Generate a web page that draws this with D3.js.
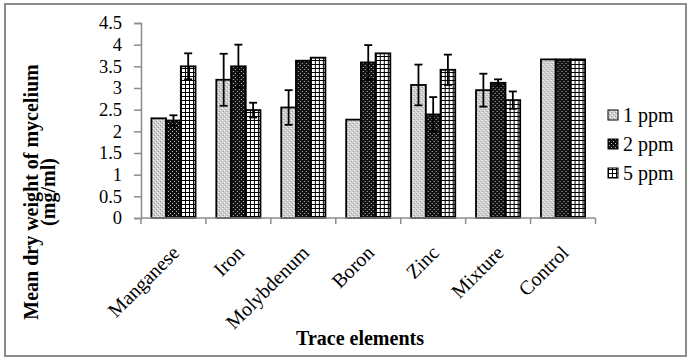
<!DOCTYPE html>
<html>
<head>
<meta charset="utf-8">
<script src="https://cdn.jsdelivr.net/npm/d3@7"></script>
<style>
	body { margin: 0; background: #fff; }
	svg { display: block; }
	svg text { font-family: 'Liberation Serif', 'Times New Roman', serif; }
</style>
</head>
<body>
<svg id="canvas" width="691" height="361"></svg>
<script>
const elements = ['Manganese', 'Iron', 'Molybdenum', 'Boron', 'Zinc', 'Mixture', 'Control'];
const seriesNames = ['1 ppm', '2 ppm', '5 ppm'];
const ppm1 = [2.3, 3.19, 2.55, 2.27, 3.07, 2.95, 3.66];
const ppm2 = [2.25, 3.5, 3.63, 3.59, 2.39, 3.12, 3.66];
const ppm5 = [3.5, 2.49, 3.7, 3.8, 3.42, 2.72, 3.66];
const err1 = [0, 0.6, 0.4, 0, 0.47, 0.38, 0];
const err2 = [0.12, 0.5, 0, 0.4, 0.4, 0.08, 0];
const err5 = [0.3, 0.17, 0, 0, 0.35, 0.2, 0];
const yTicks = [0, 0.5, 1, 1.5, 2, 2.5, 3, 3.5, 4, 4.5];

const values = [ppm1, ppm2, ppm5];
const errors = [err1, err2, err5];

const svg = d3.select('#canvas');

// outer frame
svg.append('rect')
	.attr('x', 5).attr('y', 4).attr('width', 681).attr('height', 352)
	.attr('fill', 'none').attr('stroke', '#8c8c8c').attr('stroke-width', 2);

// fill patterns
const defs = svg.append('defs');
let p = defs.append('pattern').attr('id', 'p0').attr('patternUnits', 'userSpaceOnUse')
	.attr('width', 4).attr('height', 4);
p.append('rect').attr('width', 4).attr('height', 4).attr('fill', '#cfcfcf');
p.append('rect').attr('x', 0).attr('y', 0).attr('width', 1).attr('height', 1).attr('fill', '#fff');
p.append('rect').attr('x', 2).attr('y', 2).attr('width', 1).attr('height', 1).attr('fill', '#fff');
p.append('rect').attr('x', 1).attr('y', 3).attr('width', 1).attr('height', 1).attr('fill', '#999');
p.append('rect').attr('x', 3).attr('y', 1).attr('width', 1).attr('height', 1).attr('fill', '#999');

p = defs.append('pattern').attr('id', 'p1').attr('patternUnits', 'userSpaceOnUse')
	.attr('width', 4).attr('height', 4);
p.append('rect').attr('width', 4).attr('height', 4).attr('fill', '#111');
p.append('rect').attr('x', 1).attr('y', 1).attr('width', 1).attr('height', 1).attr('fill', '#bbb');
p.append('rect').attr('x', 3).attr('y', 3).attr('width', 1).attr('height', 1).attr('fill', '#bbb');

p = defs.append('pattern').attr('id', 'p2').attr('patternUnits', 'userSpaceOnUse')
	.attr('width', 4).attr('height', 4);
p.append('rect').attr('width', 4).attr('height', 4).attr('fill', '#fff');
p.append('rect').attr('x', 0).attr('y', 0).attr('width', 4).attr('height', 1).attr('fill', '#000');
p.append('rect').attr('x', 0).attr('y', 0).attr('width', 1).attr('height', 4).attr('fill', '#000');

const x = d3.scaleBand().domain(elements).range([141, 595.5]);
const groupPad = x.bandwidth() * 0.16;
const x1 = d3.scaleBand().domain([0, 1, 2]).range([groupPad, x.bandwidth() - groupPad]);
const y = d3.scaleLinear().domain([0, 4.5]).range([218, 23]);

// y axis
const yAxis = svg.append('g')
	.attr('transform', 'translate(141,0)')
	.call(d3.axisLeft(y).tickValues(yTicks).tickFormat(d3.format('')).tickSize(7).tickPadding(12));
yAxis.attr('font-family', null).attr('font-size', null);
yAxis.select('.domain').attr('stroke', '#8c8c8c').attr('stroke-width', 1.5);
yAxis.selectAll('.tick line').attr('stroke', '#8c8c8c').attr('stroke-width', 1.5);
yAxis.selectAll('.tick text').attr('fill', '#000')
	.style('font-family', "'Liberation Serif', serif")
	.style('font-size', '18.5px');

// bars
const groups = svg.selectAll('g.grp')
	.data(elements)
	.enter()
	.append('g')
	.attr('class', 'grp')
	.attr('transform', (d) => 'translate(' + x(d) + ',0)');

groups.selectAll('rect')
	.data((d, i) => values.map((s, k) => ({ k: k, v: s[i], e: errors[k][i] })))
	.enter()
	.append('rect')
	.attr('x', (d) => x1(d.k))
	.attr('y', (d) => y(d.v))
	.attr('width', x1.bandwidth())
	.attr('height', (d) => y(0) - y(d.v))
	.attr('fill', (d) => 'url(#p' + d.k + ')')
	.attr('stroke', '#000')
	.attr('stroke-width', 1.8);

// error bars
const errs = groups.selectAll('g.err')
	.data((d, i) => values.map((s, k) => ({ k: k, v: s[i], e: errors[k][i] })).filter((d) => d.e > 0))
	.enter()
	.append('g')
	.attr('class', 'err')
	.attr('stroke', '#000')
	.attr('stroke-width', 1.8);
errs.append('line')
	.attr('x1', (d) => x1(d.k) + x1.bandwidth() / 2)
	.attr('x2', (d) => x1(d.k) + x1.bandwidth() / 2)
	.attr('y1', (d) => y(d.v - d.e))
	.attr('y2', (d) => y(d.v + d.e));
errs.append('line')
	.attr('x1', (d) => x1(d.k) + x1.bandwidth() / 2 - 4)
	.attr('x2', (d) => x1(d.k) + x1.bandwidth() / 2 + 4)
	.attr('y1', (d) => y(d.v + d.e))
	.attr('y2', (d) => y(d.v + d.e));
errs.append('line')
	.attr('x1', (d) => x1(d.k) + x1.bandwidth() / 2 - 4)
	.attr('x2', (d) => x1(d.k) + x1.bandwidth() / 2 + 4)
	.attr('y1', (d) => y(d.v - d.e))
	.attr('y2', (d) => y(d.v - d.e));

// x axis with ticks between categories
const xAxis = svg.append('g').attr('transform', 'translate(0,218)');
xAxis.append('line')
	.attr('x1', 141).attr('x2', 595.5).attr('y1', 0).attr('y2', 0)
	.attr('stroke', '#8c8c8c').attr('stroke-width', 1.5);
xAxis.selectAll('line.tk')
	.data(elements.concat(['end']))
	.enter()
	.append('line')
	.attr('class', 'tk')
	.attr('x1', (d, i) => i < elements.length ? x(d) : x.range()[1])
	.attr('x2', (d, i) => i < elements.length ? x(d) : x.range()[1])
	.attr('y1', 0).attr('y2', 6)
	.attr('stroke', '#8c8c8c').attr('stroke-width', 1.5);
xAxis.selectAll('text')
	.data(elements)
	.enter()
	.append('text')
	.attr('transform', (d) => 'translate(' + (x(d) + x.bandwidth() / 2 + 7) + ',36) rotate(-45)')
	.attr('text-anchor', 'end')
	.style('font-size', '20px')
	.text((d) => d);

// axis titles
svg.append('text')
	.attr('x', 360).attr('y', 345)
	.attr('text-anchor', 'middle')
	.style('font-size', '20px').attr('font-weight', 'bold')
	.text('Trace elements');
const yt = svg.append('text')
	.attr('transform', 'translate(0,192) rotate(-90)')
	.attr('text-anchor', 'middle')
	.style('font-size', '20px').attr('font-weight', 'bold');
yt.append('tspan').attr('x', 0).attr('y', 38).text('Mean dry weight of mycelium');
yt.append('tspan').attr('x', 0).attr('y', 55).text('(mg/ml)');

// legend
const legend = svg.selectAll('g.leg')
	.data(seriesNames)
	.enter()
	.append('g')
	.attr('class', 'leg')
	.attr('transform', (d, i) => 'translate(608,' + (115 + i * 29) + ')');
legend.append('rect')
	.attr('x', 0).attr('y', -5).attr('width', 10).attr('height', 10)
	.attr('fill', (d, i) => 'url(#p' + i + ')')
	.attr('stroke', '#000').attr('stroke-width', 1);
legend.append('text')
	.attr('x', 15).attr('y', 7)
	.style('font-size', '20px')
	.text((d) => d);
</script>
</body>
</html>
